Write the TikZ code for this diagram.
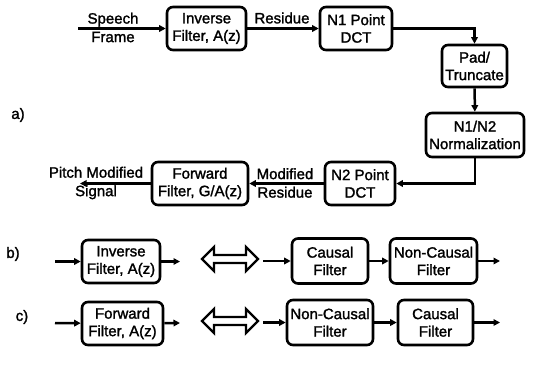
\documentclass[tikz,border=0pt]{standalone}
\usepackage{fontspec}
\setmainfont{Liberation Sans}[FakeBold=1.6]
\usetikzlibrary{arrows.meta}
\tikzset{
  blk/.style={draw, line width=2.6pt, rounded corners=6pt, align=center, inner sep=0pt, font=\fontsize{15}{17.5}\selectfont},
  lbl/.style={align=center, inner sep=0pt, font=\fontsize{15}{18.5}\selectfont},
  conn/.style={line width=2.5pt, -{Triangle[length=6.5pt,width=6.5pt]}},
  dbl/.style={line width=2.4pt, line join=miter}
}
\begin{document}
\begin{tikzpicture}[x=1pt,y=-1pt]
\useasboundingbox (0,0) rectangle (540,367);
% a)
\node[blk, minimum width=79pt, minimum height=43pt] (inv) at (206.5,28.5) {Inverse\\Filter, A(z)};
\node[blk, minimum width=72pt, minimum height=43pt] (n1) at (356,28.5) {N1 Point\\DCT};
\node[blk, minimum width=65pt, minimum height=42pt] (pad) at (474.5,66) {Pad/\\Truncate};
\node[blk, minimum width=98pt, minimum height=44pt] (norm) at (475,135) {N1/N2\\Normalization};
\node[blk, minimum width=70pt, minimum height=43pt] (n2) at (360,183.5) {N2 Point\\DCT};
\node[blk, minimum width=96pt, minimum height=43pt] (fwd) at (200,183.5) {Forward\\Filter, G/A(z)};
\coordinate (ain) at (78,28.5);
\coordinate (aout) at (80,183.5);
\draw[conn] (ain) -- (inv);
\draw[conn] (inv) -- (n1);
\draw[conn] (n1.east) -| (pad.north);
\draw[conn] (pad) -- (norm);
\draw[conn] (norm.south) |- (n2.east);
\draw[conn] (n2) -- (fwd);
\draw[conn] (fwd) -- (aout);
\node[lbl] (sf) at (113,27.5) {Speech\\Frame};
\node[lbl] (res) at (282,18) {Residue};
\node[lbl] (mr) at (285,183) {Modified\\Residue};
\node[lbl] (pms) at (96,183) {Pitch Modified\\Signal};
\node[lbl] (la) at (18,115) {a)};
% b)
\node[lbl] (lb) at (13,254) {b)};
\node[blk, minimum width=78pt, minimum height=43pt] (inv2) at (121,261.5) {Inverse\\Filter, A(z)};
\node[blk, minimum width=76pt, minimum height=45pt] (c1) at (330,261) {Causal\\Filter};
\node[blk, minimum width=87pt, minimum height=45pt] (nc1) at (433.5,261) {Non-Causal\\Filter};
\coordinate (bin1) at (55,261.5);
\coordinate (bout1) at (180,261.5);
\coordinate (bin2) at (263,261);
\coordinate (bout2) at (500,261);
\draw[conn] (bin1) -- (inv2);
\draw[conn] (inv2) -- (bout1);
\draw[conn] (bin2) -- (c1);
\draw[conn] (c1) -- (nc1);
\draw[conn] (nc1) -- (bout2);
\draw[dbl] (202,259) -- (214,247) -- (214,255) -- (246,255) -- (246,247) -- (258,259) -- (246,271) -- (246,263) -- (214,263) -- (214,271) -- cycle;
% c)
\node[lbl] (lc) at (22,317) {c)};
\node[blk, minimum width=81pt, minimum height=43pt] (fwd2) at (122.5,323.5) {Forward\\Filter, A(z)};
\node[blk, minimum width=86pt, minimum height=45pt] (nc2) at (330,322.5) {Non-Causal\\Filter};
\node[blk, minimum width=75pt, minimum height=45pt] (c2) at (435.5,322.5) {Causal\\Filter};
\coordinate (cin1) at (55,323);
\coordinate (cout1) at (180,323);
\coordinate (cin2) at (263,322.5);
\coordinate (cout2) at (500,322.5);
\draw[conn] (cin1) -- (fwd2);
\draw[conn] (fwd2) -- (cout1);
\draw[conn] (cin2) -- (nc2);
\draw[conn] (nc2) -- (c2);
\draw[conn] (c2) -- (cout2);
\draw[dbl] (202,321) -- (214,309) -- (214,317) -- (246,317) -- (246,309) -- (258,321) -- (246,333) -- (246,325) -- (214,325) -- (214,333) -- cycle;
\end{tikzpicture}
\end{document}
